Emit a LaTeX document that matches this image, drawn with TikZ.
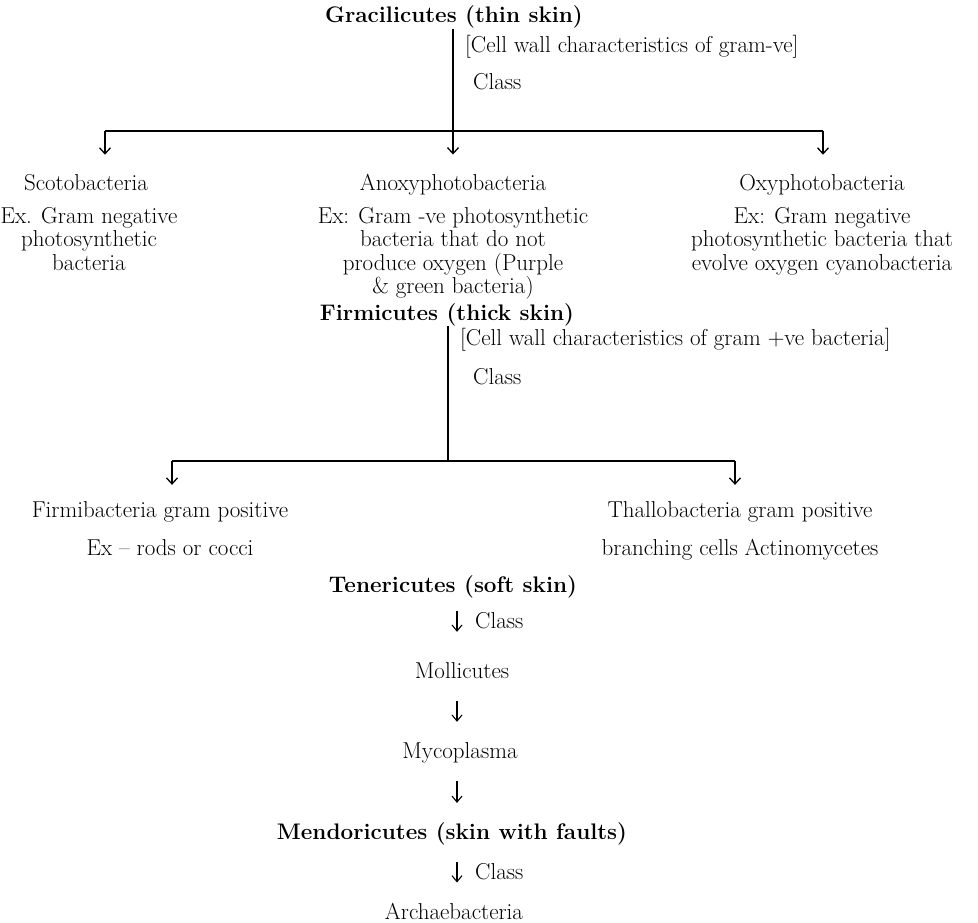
\documentclass[tikz,border=0pt]{standalone}
\usepackage{fontspec}
\usetikzlibrary{arrows.meta}
\begin{document}
\begin{tikzpicture}[x=1pt,y=-1pt,
  every node/.style={inner sep=0pt, anchor=base, font=\fontsize{23}{27}\selectfont},
  hd/.style={font=\fontsize{22.5}{27}\selectfont\bfseries},
  lft/.style={anchor=base west},
  bar/.style={line width=1.8pt},
  tip/.style={line width=1.3pt, -{Straight Barb[length=6pt,width=11pt,line width=1.3pt]}},
  sarr/.style={line width=1.1pt, -{Straight Barb[length=6pt,width=10pt,line width=1.1pt]}}]
\useasboundingbox (0,0) rectangle (978,923);

% ---------- Gracilicutes ----------
\node[hd] (gra) at (454,23) {Gracilicutes (thin skin)};
\node[lft] (gnote) at (465,53) {[Cell wall characteristics of gram-ve]};
\node[lft] (gcls) at (473,90) {Class};
\coordinate (gj) at (453,131);
\coordinate (gl) at (105,131);
\coordinate (gr) at (823,131);

\node (scoto)  at (86,190) {Scotobacteria};
\node (scoto1) at (89,224) {Ex. Gram negative};
\node (scoto2) at (89,247) {photosynthetic};
\node (scoto3) at (89,270) {bacteria};

\node (anoxy)  at (453,190) {Anoxyphotobacteria};
\node (anoxy1) at (453,224) {Ex: Gram -ve photosynthetic};
\node (anoxy2) at (453,247) {bacteria that do not};
\node (anoxy3) at (453,270) {produce oxygen (Purple};
\node (anoxy4) at (453,293) {\& green bacteria)};

\node (oxy)  at (822,190) {Oxyphotobacteria};
\node (oxy1) at (822,224) {Ex: Gram negative};
\node (oxy2) at (822,247) {photosynthetic bacteria that};
\node (oxy3) at (822,270) {evolve oxygen cyanobacteria};

\draw[bar] (gra.south -| gj) -- (gj);
\draw[bar] (gl) -- (gr);
\draw[tip, shorten >=19pt] (gl) -- (gl |- scoto.north);
\draw[tip, shorten >=19pt] (gj) -- (gj |- anoxy.north);
\draw[tip, shorten >=19pt] (gr) -- (gr |- oxy.north);

% ---------- Firmicutes ----------
\node[hd] (firm) at (447,320) {Firmicutes (thick skin)};
\node[lft] (fnote) at (460,345) {[Cell wall characteristics of gram +ve bacteria]};
\node[lft] (fcls) at (473,384) {Class};
\coordinate (fj) at (448,461);
\coordinate (fl) at (172,461);
\coordinate (fr) at (735,461);

\node (fb)  at (160,517) {Firmibacteria gram positive};
\node (fb1) at (170,555) {Ex – rods or cocci};
\node (th)  at (740,517) {Thallobacteria gram positive};
\node (th1) at (740,555) {branching cells Actinomycetes};

\draw[bar] (firm.south -| fj) -- (fj);
\draw[bar] (fl) -- (fr);
\draw[tip, shorten >=16pt] (fl) -- (fl |- fb.north);
\draw[tip, shorten >=16pt] (fr) -- (fr |- th.north);

% ---------- Tenericutes / Mendoricutes ----------
\coordinate (ax) at (457,0);
\node[hd] (ten) at (453,592) {Tenericutes (soft skin)};
\node (mol) at (462,678) {Mollicutes};
\node (myc) at (460,758) {Mycoplasma};
\node[hd] (men) at (452,839) {Mendoricutes (skin with faults)};
\node (arc) at (454,919) {Archaebacteria};
\node[lft] (tcls) at (475,628) {Class};
\node[lft] (mcls) at (475,879) {Class};

\draw[sarr, shorten <=13.5pt, shorten >=30pt] (ten.south -| ax) -- (mol.north -| ax);
\draw[sarr, shorten <=23pt, shorten >=20pt] (mol.south -| ax) -- (myc.north -| ax);
\draw[sarr, shorten <=18.5pt, shorten >=19pt] (myc.south -| ax) -- (men.north -| ax);
\draw[sarr, shorten <=17.5pt, shorten >=20pt] (men.south -| ax) -- (arc.north -| ax);
\end{tikzpicture}
\end{document}
